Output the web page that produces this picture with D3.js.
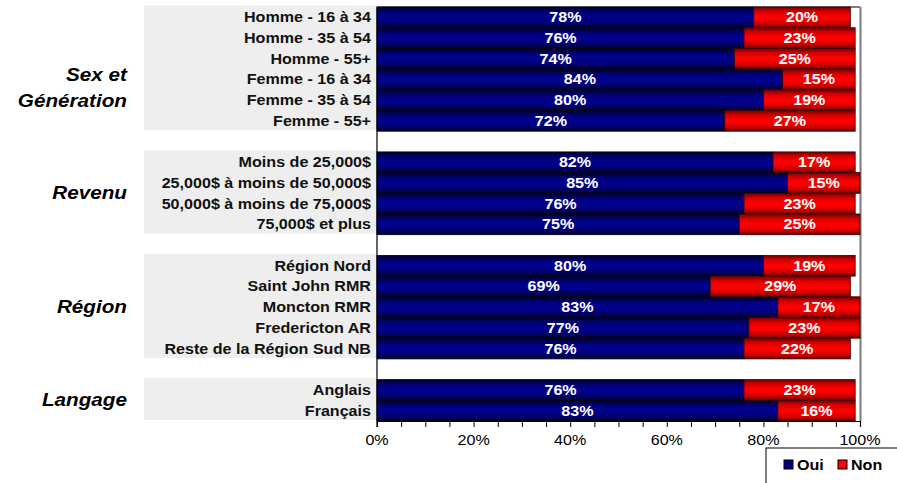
<!DOCTYPE html>
<html>
<head>
<meta charset="utf-8">
<script src="https://cdn.jsdelivr.net/npm/d3@7"></script>
<style>
  html, body { margin: 0; padding: 0; background: #fff; }
  svg { display: block; font-family: "Liberation Sans", Arial, sans-serif; }
</style>
</head>
<body>
<svg id="chart" width="897" height="483"></svg>
<script>
// ---- data ----
const groups = ["Sex et Génération", "Revenu", "Région", "Langage"];
const groupTitleLines = [["Sex et", "Génération"], ["Revenu"], ["Région"], ["Langage"]];
const groupMembers = [
  ["Homme - 16 à 34", "Homme - 35 à 54", "Homme - 55+", "Femme - 16 à 34", "Femme - 35 à 54", "Femme - 55+"],
  ["Moins de 25,000$", "25,000$ à moins de 50,000$", "50,000$ à moins de 75,000$", "75,000$ et plus"],
  ["Région Nord", "Saint John RMR", "Moncton RMR", "Fredericton AR", "Reste de la Région Sud NB"],
  ["Anglais", "Français"]
];
const oui = [78, 76, 74, 84, 80, 72, 82, 85, 76, 75, 80, 69, 83, 77, 76, 76, 83];
const non = [20, 23, 25, 15, 19, 27, 17, 15, 23, 25, 19, 29, 17, 23, 22, 23, 16];
const seriesNames = ["Oui", "Non"];
const tickValues = [0, 5, 10, 15, 20, 25, 30, 35, 40, 45, 50, 55, 60, 65, 70, 75, 80, 85, 90, 95, 100];
const tickLabels = [0, 20, 40, 60, 80, 100];

// ---- layout ----
const STRETCH = 1.15;            // horizontal text stretch
const plot = { left: 377, right: 860, top: 7, bottom: 421 };
const panelLeft = 144;
const titleRight = 127;

const categories = groupMembers.flat();
// band domain with one empty row between groups
const bandDomain = [];
groupMembers.forEach((g, i) => {
  g.forEach(c => bandDomain.push(c));
  if (i < groupMembers.length - 1) bandDomain.push("__gap" + i);
});

const x = d3.scaleLinear().domain([0, 100]).range([plot.left, plot.right]);
const y = d3.scaleBand().domain(bandDomain).range([plot.top, plot.bottom]).padding(0);

const rows = categories.map((c, i) => ({ cat: c, oui: oui[i], non: non[i] }));
const stack = d3.stack().keys(["oui", "non"])(rows);

const svg = d3.select("#chart");
const defs = svg.append("defs");

function gradient(id, stops) {
  const g = defs.append("linearGradient").attr("id", id)
    .attr("x1", 0).attr("y1", 0).attr("x2", 0).attr("y2", 1);
  stops.forEach(([o, c]) => g.append("stop").attr("offset", o).attr("stop-color", c));
}
gradient("gOui", [[0, "#00001e"], [0.18, "#000068"], [0.45, "#000090"], [0.6, "#00008a"], [0.85, "#000060"], [1, "#00001a"]]);
gradient("gNon", [[0, "#6a0000"], [0.2, "#d00000"], [0.45, "#ff0000"], [0.6, "#fc0000"], [0.85, "#c00000"], [1, "#5a0000"]]);
const fills = ["url(#gOui)", "url(#gNon)"];
const legendFills = ["#000080", "#ff0000"];

function stretchedText(sel, tx, ty) {
  return sel.attr("transform", (d, i) => `translate(${tx(d, i)},${ty(d, i)}) scale(${STRETCH},1)`);
}

// grey label panels
groupMembers.forEach((g) => {
  const top = y(g[0]) - 1.5;
  const bottom = y(g[g.length - 1]) + y.bandwidth() - 1;
  svg.append("rect")
    .attr("x", panelLeft).attr("y", top)
    .attr("width", plot.left - panelLeft).attr("height", bottom - top)
    .attr("fill", "#eeeeee");
});

// group titles
groupMembers.forEach((g, gi) => {
  const mid = (y(g[0]) + y(g[g.length - 1]) + y.bandwidth()) / 2;
  const lines = groupTitleLines[gi];
  const lh = 26;
  const shift = gi === 0 ? 19 : 0;
  const first = mid + shift - (lines.length - 1) * lh / 2 + 6;
  svg.append("g").selectAll("text").data(lines).join("text")
    .call(stretchedText, () => titleRight, (d, i) => first + i * lh)
    .attr("text-anchor", "end")
    .attr("font-size", 18).attr("font-weight", "bold").attr("font-style", "italic")
    .attr("fill", "#000")
    .text(d => d);
});

// category labels
svg.append("g").selectAll("text").data(categories).join("text")
  .call(stretchedText, () => plot.left - 6, d => y(d) + y.bandwidth() / 2 + 5)
  .attr("text-anchor", "end")
  .attr("font-size", 14).attr("font-weight", "bold").attr("fill", "#111")
  .text(d => d);

// plot frame (top and right)
svg.append("line").attr("x1", plot.left).attr("x2", plot.right)
  .attr("y1", plot.top).attr("y2", plot.top).attr("stroke", "#000").attr("stroke-width", 1);
svg.append("line").attr("x1", plot.right + 0.5).attr("x2", plot.right + 0.5)
  .attr("y1", plot.top).attr("y2", plot.bottom).attr("stroke", "#7a7a7a").attr("stroke-width", 2);

// bars
stack.forEach((layer, si) => {
  svg.append("g").selectAll("rect").data(layer).join("rect")
    .attr("x", d => x(d[0]))
    .attr("y", d => y(d.data.cat))
    .attr("width", d => x(d[1]) - x(d[0]))
    .attr("height", y.bandwidth())
    .attr("fill", fills[si])
    .attr("stroke", si === 0 ? "#000010" : "#3a0000")
    .attr("stroke-width", 0.8);
});

// value labels
stack.forEach((layer) => {
  svg.append("g").selectAll("text").data(layer).join("text")
    .call(stretchedText, d => (x(d[0]) + x(d[1])) / 2, d => y(d.data.cat) + y.bandwidth() / 2 + 5)
    .attr("text-anchor", "middle")
    .attr("font-size", 14).attr("font-weight", "bold").attr("fill", "#fff")
    .text(d => (d[1] - d[0]) + "%");
});

// axes
const xAxis = d3.axisBottom(x).tickValues(tickValues).tickSize(6).tickFormat("");
const axG = svg.append("g").attr("transform", `translate(0,${plot.bottom})`).call(xAxis);
axG.select(".domain").attr("stroke", "#000").attr("stroke-width", 1.2);
axG.selectAll(".tick line").attr("stroke", "#000");

svg.append("g").selectAll("text").data(tickLabels).join("text")
  .call(stretchedText, d => x(d), () => plot.bottom + 24)
  .attr("text-anchor", "middle")
  .attr("font-size", 14).attr("fill", "#000")
  .text(d => d + "%");

svg.append("line").attr("x1", plot.left).attr("x2", plot.left)
  .attr("y1", plot.top).attr("y2", plot.bottom + 6)
  .attr("stroke", "#000").attr("stroke-width", 1.2);

// legend
const lg = svg.append("g");
lg.append("rect").attr("x", 766).attr("y", 448).attr("width", 140).attr("height", 40)
  .attr("fill", "#fff").attr("stroke", "#000").attr("stroke-width", 1);
const legendX = [784, 838];
seriesNames.forEach((s, i) => {
  lg.append("rect").attr("x", legendX[i]).attr("y", 460).attr("width", 9).attr("height", 9)
    .attr("fill", legendFills[i]).attr("stroke", "#000").attr("stroke-width", 1);
  lg.append("text")
    .attr("transform", `translate(${legendX[i] + 13},${470}) scale(${STRETCH},1)`)
    .attr("font-size", 14).attr("font-weight", "bold").attr("fill", "#000")
    .text(s);
});
</script>
</body>
</html>
